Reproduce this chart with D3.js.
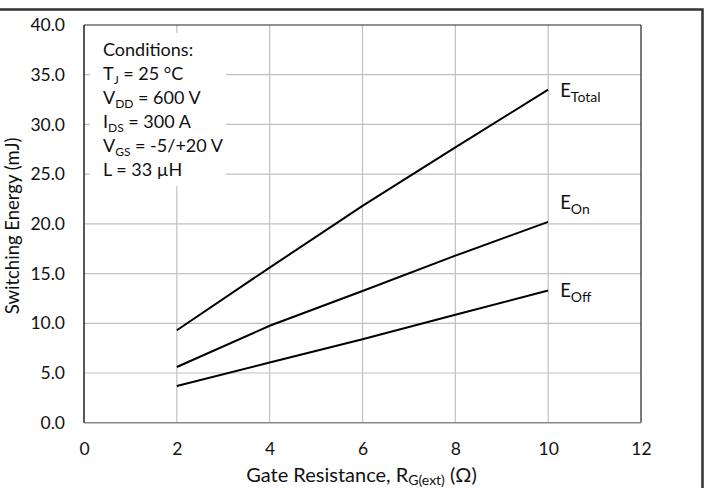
<!DOCTYPE html>
<html><head><meta charset="utf-8">
<script src="https://cdn.jsdelivr.net/npm/d3@7"></script>
<style>body{margin:0;background:#fff}svg{display:block;font-family:Lato,"Open Sans",sans-serif}</style>
</head><body>
<svg id="c" width="712" height="488"></svg>
<script>
const resistance = [2, 4, 6, 8, 10];
const eTotal = [9.3, 15.6, 21.8, 27.7, 33.5];
const eOn = [5.6, 9.75, 13.25, 16.8, 20.2];
const eOff = [3.7, 6.05, 8.4, 10.85, 13.3];
const xTicks = [0, 2, 4, 6, 8, 10, 12];
const yTicks = [0, 5, 10, 15, 20, 25, 30, 35, 40];
const conditions = [
  ["Conditions:", ""],
  ["T", "J", " = 25 °C"],
  ["V", "DD", " = 600 V"],
  ["I", "DS", " = 300 A"],
  ["V", "GS", " = -5/+20 V"],
  ["L = 33 µH", ""]
];

const svg = d3.select("#c");
const m = {l: 84, r: 641, t: 25, b: 422.7};
const x = d3.scaleLinear().domain([0, 12]).range([m.l, m.r]);
const y = d3.scaleLinear().domain([0, 40]).range([m.b, m.t]);

// outer frame
svg.append("rect").attr("x", -10).attr("y", 9.5).attr("width", 712.5).attr("height", 500)
  .attr("fill", "none").attr("stroke", "#333").attr("stroke-width", 2.5);

// grid
const g = svg.append("g");
g.selectAll(".hg").data(yTicks.slice(1, -1)).join("line")
  .attr("x1", m.l).attr("x2", m.r).attr("y1", d => y(d)).attr("y2", d => y(d))
  .attr("stroke", "#c0c0c0").attr("stroke-width", 1.2);
g.selectAll(".vg").data(xTicks.slice(1, -1)).join("line")
  .attr("y1", m.t).attr("y2", m.b).attr("x1", d => x(d)).attr("x2", d => x(d))
  .attr("stroke", "#c0c0c0").attr("stroke-width", 1.2);

// conditions box (white)
svg.append("rect").attr("x", 90).attr("y", 33).attr("width", 136).attr("height", 153).attr("fill", "#fff");
const ct = svg.append("g").attr("fill", "#111");
conditions.forEach((c, i) => {
  const t = ct.append("text").attr("x", 103).attr("y", 56 + i * 24).attr("font-size", 18);
  t.append("tspan").text(c[0]);
  if (c[1]) {
    t.append("tspan").attr("font-size", 12).attr("dy", 4).text(c[1]);
    t.append("tspan").attr("dy", -4).text(c[2]);
  }
});

// plot border
svg.append("line").attr("x1", m.l).attr("x2", m.r).attr("y1", m.t).attr("y2", m.t).attr("stroke", "#222").attr("stroke-width", 1.2);
svg.append("line").attr("x1", m.r).attr("x2", m.r).attr("y1", m.t).attr("y2", m.b).attr("stroke", "#222").attr("stroke-width", 1.2);
svg.append("line").attr("x1", m.l).attr("x2", m.r).attr("y1", m.b).attr("y2", m.b).attr("stroke", "#888").attr("stroke-width", 1.4);
svg.append("line").attr("x1", m.l).attr("x2", m.l).attr("y1", m.t).attr("y2", m.b).attr("stroke", "#111").attr("stroke-width", 1.4);

// axes labels
const ya = svg.append("g").attr("transform", `translate(${m.l},0)`)
  .call(d3.axisLeft(y).tickValues(yTicks).tickFormat(d3.format(".1f")).tickSize(0).tickPadding(19));
const xa = svg.append("g").attr("transform", `translate(0,${m.b})`)
  .call(d3.axisBottom(x).tickValues(xTicks).tickSize(0).tickPadding(20));
[ya, xa].forEach(a => {
  a.attr("font-size", null).attr("font-family", null);
  a.select(".domain").remove();
  a.selectAll("text").attr("font-size", 17.5).attr("fill", "#111");
});

// lines
const line = d3.line().x((d, i) => x(resistance[i])).y(d => y(d));
[eTotal, eOn, eOff].forEach(s => {
  svg.append("path").attr("d", line(s)).attr("fill", "none").attr("stroke", "#000").attr("stroke-width", 2);
});

// series labels
const labels = [["Total", eTotal, 7], ["On", eOn, -13], ["Off", eOff, 6.5]];
labels.forEach(([sub, s, off]) => {
  const t = svg.append("text").attr("x", x(10) + 12).attr("y", y(s[s.length - 1]) + off)
    .attr("font-size", 18.5).attr("fill", "#111");
  t.append("tspan").text("E");
  t.append("tspan").attr("font-size", 14).attr("dy", 5).text(sub);
});

// axis titles
svg.append("text").attr("transform", `translate(19,${(m.t + m.b) / 2 + 2}) rotate(-90)`)
  .attr("text-anchor", "middle").attr("font-size", 18.5).attr("fill", "#111").text("Switching Energy (mJ)");
const xt = svg.append("text").attr("x", (m.l + m.r) / 2 - 1).attr("y", 482).attr("text-anchor", "middle")
  .attr("font-size", 20).attr("fill", "#111");
xt.append("tspan").text("Gate Resistance, R");
xt.append("tspan").attr("font-size", 14).attr("dy", 3).text("G(ext)");
xt.append("tspan").attr("dy", -3).text(" (Ω)");
</script>
</body></html>
